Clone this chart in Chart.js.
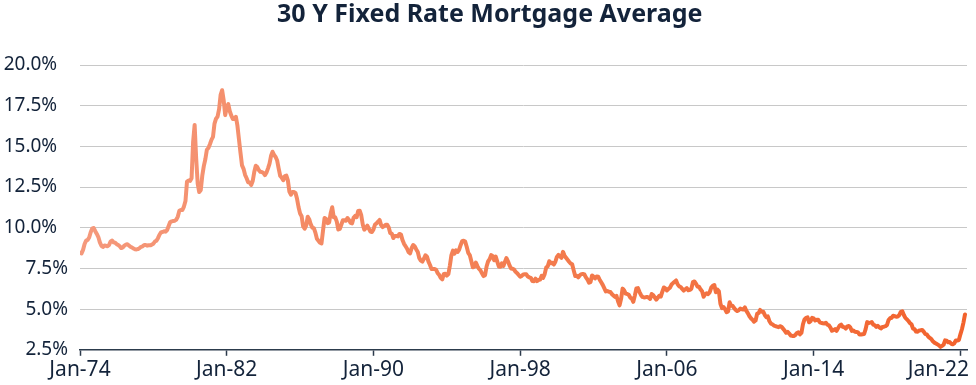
<!DOCTYPE html>
<html>
<head>
<meta charset="utf-8">
<script src="https://cdn.jsdelivr.net/npm/chart.js@4.4.1/dist/chart.umd.min.js"></script>
<style>
  html, body { margin: 0; padding: 0; background: #fff; }
  #wrap { position: relative; width: 976px; height: 385px; }
</style>
</head>
<body>
<div id="wrap"><canvas id="chart"></canvas></div>
<script>
'use strict';

/* datos: promedio mensual, tasa fija 30 años (%), desde ene-1974 */
const startYear = 1974;
const rates1970s = [
  8.46, 8.42, 8.64, 9.00, 9.21, 9.25, 9.40, 9.72, 9.96, 9.98, 9.79, 9.62,
  9.43, 9.10, 8.89, 8.82, 8.91, 8.89, 8.86, 8.94, 9.16, 9.21, 9.10, 9.08,
  8.99, 8.94, 8.86, 8.75, 8.79, 8.90, 8.96, 8.99, 8.91, 8.83, 8.78, 8.73,
  8.68, 8.67, 8.69, 8.75, 8.83, 8.86, 8.94, 8.94, 8.90, 8.92, 8.92, 8.96,
  9.02, 9.15, 9.20, 9.36, 9.57, 9.71, 9.74, 9.78, 9.76, 9.86, 10.11, 10.35,
  10.39, 10.41, 10.43, 10.50, 10.69, 11.04, 11.09, 11.09, 11.30, 11.64, 12.83, 12.90,
];
const rates1980s = [
  12.88, 13.04, 15.28, 16.32, 14.26, 12.71, 12.19, 12.32, 13.20, 13.79, 14.21, 14.79,
  14.90, 15.13, 15.40, 15.58, 16.40, 16.70, 16.83, 17.29, 18.16, 18.45, 17.83, 16.92,
  17.40, 17.60, 17.16, 16.89, 16.68, 16.70, 16.82, 16.27, 15.43, 14.61, 13.83, 13.62,
  13.25, 13.04, 12.80, 12.78, 12.63, 12.87, 13.42, 13.81, 13.73, 13.54, 13.44, 13.42,
  13.37, 13.23, 13.39, 13.65, 13.94, 14.42, 14.67, 14.47, 14.35, 14.13, 13.64, 13.18,
  13.08, 12.92, 13.17, 13.20, 12.91, 12.22, 12.03, 12.19, 12.19, 12.14, 11.78, 11.26,
  10.88, 10.71, 10.08, 9.94, 10.14, 10.68, 10.51, 10.20, 10.01, 9.98, 9.70, 9.32,
  9.20, 9.08, 9.04, 9.83, 10.60, 10.54, 10.28, 10.33, 10.89, 11.26, 10.65, 10.64,
  10.38, 9.89, 9.93, 10.20, 10.46, 10.46, 10.43, 10.60, 10.48, 10.30, 10.27, 10.61,
  10.73, 10.65, 11.03, 11.05, 10.77, 10.20, 9.88, 9.99, 10.13, 9.95, 9.77, 9.74,
];
const rates1990s = [
  9.90, 10.20, 10.27, 10.37, 10.48, 10.16, 10.04, 10.10, 10.18, 10.18, 10.01, 9.67,
  9.64, 9.37, 9.50, 9.49, 9.47, 9.62, 9.58, 9.24, 9.01, 8.86, 8.71, 8.50,
  8.43, 8.76, 8.94, 8.85, 8.67, 8.51, 8.13, 7.98, 7.92, 8.09, 8.31, 8.22,
  7.92, 7.71, 7.46, 7.46, 7.47, 7.42, 7.21, 7.11, 6.92, 6.83, 7.16, 7.17,
  7.06, 7.15, 7.68, 8.32, 8.60, 8.40, 8.61, 8.51, 8.64, 8.93, 9.17, 9.20,
  9.15, 8.83, 8.46, 8.32, 7.96, 7.57, 7.61, 7.86, 7.64, 7.48, 7.38, 7.20,
  7.03, 7.08, 7.62, 7.93, 8.07, 8.32, 8.25, 8.00, 8.23, 7.92, 7.62, 7.60,
  7.82, 7.65, 7.90, 8.14, 7.94, 7.69, 7.50, 7.48, 7.43, 7.29, 7.21, 7.10,
  6.99, 7.04, 7.13, 7.14, 7.14, 7.00, 6.95, 6.92, 6.72, 6.71, 6.87, 6.72,
  6.79, 6.81, 7.04, 6.92, 7.15, 7.55, 7.63, 7.94, 7.82, 7.85, 7.74, 7.91,
];
const rates2000s = [
  8.21, 8.33, 8.24, 8.15, 8.52, 8.29, 8.15, 8.03, 7.91, 7.80, 7.75, 7.38,
  7.03, 7.05, 6.95, 7.08, 7.15, 7.16, 7.13, 6.95, 6.82, 6.62, 6.66, 7.07,
  7.00, 6.89, 7.01, 6.99, 6.81, 6.65, 6.49, 6.29, 6.09, 6.11, 6.07, 6.05,
  5.92, 5.84, 5.75, 5.81, 5.48, 5.23, 5.63, 6.26, 6.15, 5.95, 5.93, 5.88,
  5.71, 5.64, 5.45, 5.83, 6.27, 6.29, 6.06, 5.87, 5.75, 5.72, 5.73, 5.75,
  5.71, 5.63, 5.93, 5.86, 5.72, 5.58, 5.70, 5.82, 5.77, 6.07, 6.33, 6.27,
  6.15, 6.25, 6.32, 6.51, 6.60, 6.68, 6.76, 6.52, 6.40, 6.36, 6.24, 6.14,
  6.22, 6.29, 6.16, 6.18, 6.26, 6.66, 6.70, 6.57, 6.38, 6.38, 6.21, 6.10,
  5.76, 5.92, 5.97, 5.92, 6.04, 6.32, 6.43, 6.48, 6.04, 6.20, 6.09, 5.33,
  5.06, 5.13, 5.00, 4.81, 4.86, 5.42, 5.22, 5.19, 5.06, 4.95, 4.88, 4.93,
];
const rates2010s = [
  5.03, 4.99, 4.97, 5.10, 4.89, 4.74, 4.56, 4.43, 4.35, 4.23, 4.30, 4.71,
  4.76, 4.95, 4.84, 4.84, 4.64, 4.51, 4.55, 4.27, 4.11, 4.07, 3.99, 3.96,
  3.92, 3.89, 3.95, 3.91, 3.80, 3.68, 3.55, 3.60, 3.50, 3.38, 3.35, 3.35,
  3.41, 3.53, 3.57, 3.45, 3.54, 4.07, 4.37, 4.46, 4.49, 4.19, 4.26, 4.46,
  4.43, 4.30, 4.34, 4.34, 4.19, 4.16, 4.13, 4.12, 4.16, 4.04, 4.00, 3.86,
  3.67, 3.71, 3.77, 3.67, 3.84, 3.98, 4.05, 3.91, 3.89, 3.80, 3.94, 3.96,
  3.87, 3.66, 3.69, 3.61, 3.60, 3.57, 3.44, 3.44, 3.46, 3.47, 3.77, 4.20,
  4.15, 4.17, 4.20, 4.05, 4.01, 3.90, 3.97, 3.88, 3.81, 3.90, 3.92, 3.95,
  4.03, 4.33, 4.44, 4.47, 4.59, 4.57, 4.53, 4.55, 4.63, 4.83, 4.87, 4.64,
  4.46, 4.37, 4.27, 4.14, 4.07, 3.80, 3.77, 3.62, 3.61, 3.69, 3.70, 3.72,
];
const rates2020s = [
  3.62, 3.47, 3.45, 3.31, 3.23, 3.16, 3.02, 2.94, 2.89, 2.83, 2.77, 2.68,
  2.74, 2.81, 3.08, 3.06, 2.96, 2.98, 2.87, 2.84, 2.90, 3.07, 3.07, 3.10,
  3.45, 3.76, 4.17, 4.67,
];
const xTickYears = [1974, 1982, 1990, 1998, 2006, 2014, 2022];
const yMin = 2.5, yMax = 20, yStep = 2.5;

const rates = [...rates1970s, ...rates1980s, ...rates1990s, ...rates2000s, ...rates2010s, ...rates2020s];
const points = rates.map((v, i) => ({ x: startYear + i / 12, y: v }));

/* estilo */
const INK = '#13233a';
const FONT = '"Noto Sans", "Open Sans", sans-serif';

function lineGradient(ctx) {
  const { chart } = ctx;
  const area = chart.chartArea;
  if (!area) return '#f47a4c';
  const g = chart.ctx.createLinearGradient(area.left, 0, area.right, 0);
  g.addColorStop(0, '#f5997c');
  g.addColorStop(0.5, '#f37d50');
  g.addColorStop(1, '#f2622d');
  return g;
}

new Chart(document.getElementById('chart'), {
  type: 'line',
  data: {
    datasets: [{
      data: points,
      borderColor: lineGradient,
      borderWidth: 4,
      pointRadius: 0,
      tension: 0,
      borderJoinStyle: 'round',
      borderCapStyle: 'round',
    }],
  },
  options: {
    responsive: true, maintainAspectRatio: false, animation: false,
    layout: { padding: { left: 0, right: 9, top: 0, bottom: 0 } },
    plugins: {
      legend: { display: false },
      tooltip: { enabled: false },
      title: {
        display: true, text: '\u2002' + '30 Y Fixed Rate Mortgage Average', color: INK,
        font: { family: FONT, size: 25, weight: '700' }, padding: { top: 0, bottom: 35 },
      },
    },
    scales: {
      x: {
        type: 'linear', min: startYear, max: 2022.36,
        afterBuildTicks: s => { s.ticks = xTickYears.map(v => ({ value: v })); },
        afterFit: s => { s.paddingLeft = 0; s.paddingRight = 0; },
        border: { display: true, color: '#2c3b4c', width: 1.5 },
        grid: { drawOnChartArea: false, drawTicks: true, tickLength: 6, tickColor: '#2c3b4c', tickWidth: 1.5 },
        ticks: {
          color: INK, font: { family: FONT, size: 21 }, padding: 2, maxRotation: 0, autoSkip: false,
          callback: v => 'Jan-' + String(v).slice(2) + (v === 2022 ? '\u2003\u2003\u200a' : ''),
        },
      },
      y: {
        min: yMin, max: yMax,
        afterFit: s => { s.width = 80; },
        border: { display: false },
        grid: { color: '#c8c8c8', lineWidth: 1, drawTicks: false },
        ticks: {
          stepSize: yStep, color: INK, font: { family: FONT, size: 19 }, padding: 12,
          callback: v => v.toFixed(1) + '%' + (v >= 10 ? '\u2007' : ''),
        },
      },
    },
  },
});
</script>
</body>
</html>
